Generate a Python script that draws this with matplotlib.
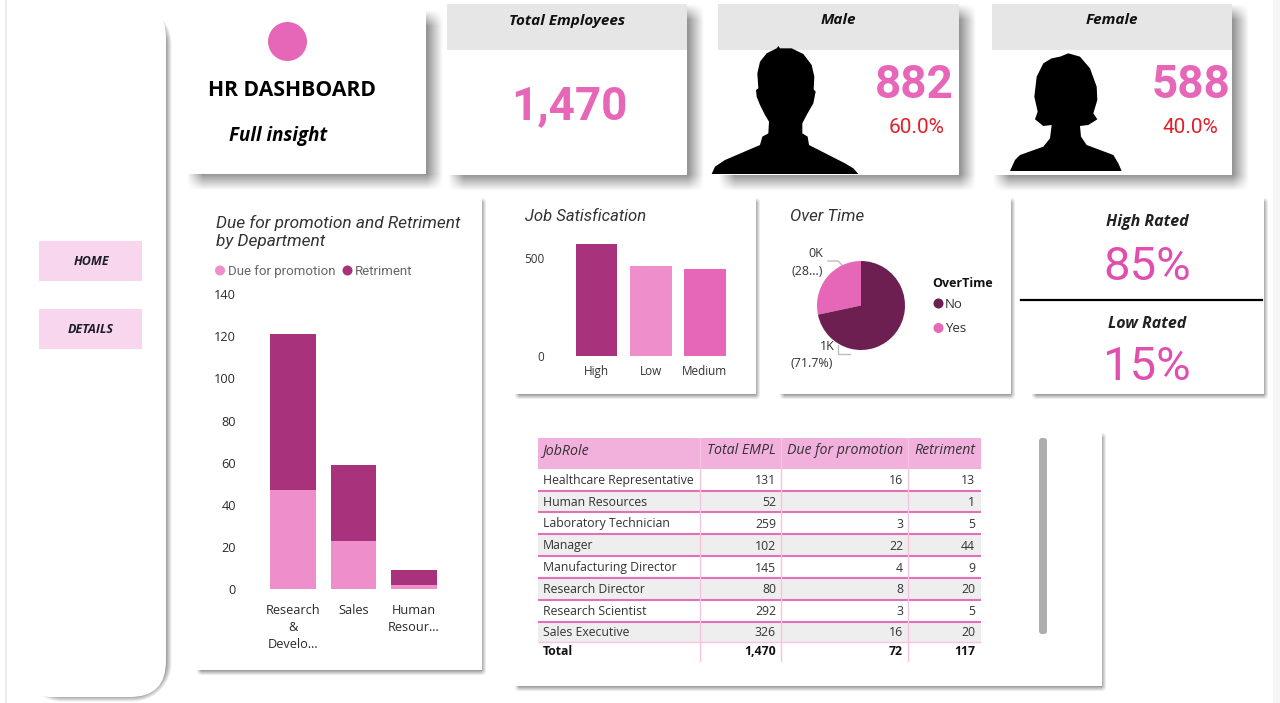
import matplotlib
matplotlib.use("Agg")
import matplotlib.pyplot as plt
from matplotlib.patches import FancyBboxPatch, Rectangle, Circle, Polygon
import numpy as np

W, H = 1280, 703

departments = ["Research\n&\nDevelo...", "Sales", "Human\nResour..."]
due_promotion = [47, 23, 2]
retirement = [74, 36, 7]

satisfaction_labels = ["High", "Low", "Medium"]
satisfaction_values = [571, 459, 444]

overtime_labels = ["Yes", "No"]
overtime_values = [28.3, 71.7]

job_roles = ["Healthcare Representative", "Human Resources", "Laboratory Technician",
             "Manager", "Manufacturing Director", "Research Director",
             "Research Scientist", "Sales Executive"]
role_total = ["131", "52", "259", "102", "145", "80", "292", "326"]
role_promotion = ["16", "", "3", "22", "4", "8", "3", "16"]
role_retirement = ["13", "1", "5", "44", "9", "20", "5", "20"]
table_header = ["JobRole", "Total EMPL", "Due for promotion", "Retriment"]
table_total = ["Total", "1,470", "72", "117"]

PINK = "#E667B8"
LIGHT = "#EE8FCB"
DARK = "#A8327B"
PLUM = "#6E1F52"
SANS = "Open Sans"
DIN = "Roboto"

plt.rcParams["font.family"] = [SANS, "DejaVu Sans"]

fig = plt.figure(figsize=(W / 100, H / 100), dpi=100, facecolor="white")
bg = fig.add_axes([0, 0, 1, 1], zorder=0)
bg.set_xlim(0, W)
bg.set_ylim(H, 0)
bg.axis("off")


def px_axes(x0, y0, x1, y1):
    ax = fig.add_axes([x0 / W, 1 - y1 / H, (x1 - x0) / W, (y1 - y0) / H], zorder=2)
    ax.patch.set_alpha(0)
    for s in ax.spines.values():
        s.set_visible(False)
    return ax


def txt(x, y, s, size, color="#111111", ha="center", weight="normal", style="normal", family=SANS):
    return bg.text(x, y + 1.5, s, fontsize=size, color=color, ha=ha, va="center",
                   fontweight=weight, fontstyle=style, family=family, zorder=6)


# soft shadows, accumulated into one grey layer
shadow = np.zeros((H, W))
grid_x = np.arange(W) + 0.5
grid_y = np.arange(H) + 0.5


def ramp(v, a, b, blur):
    return np.clip((v - a + blur) / (2 * blur), 0, 1) * np.clip((b - v + blur) / (2 * blur), 0, 1)


def card(x0, y0, x1, y1, dx=2, dy=3, blur=2.5, strength=0.38):
    global shadow
    layer = np.outer(ramp(grid_y, y0 + dy, y1 + dy, blur), ramp(grid_x, x0 + dx, x1 + dx, blur))
    shadow = np.maximum(shadow, layer * strength)
    bg.add_patch(Rectangle((x0, y0), x1 - x0, y1 - y0, fc="white", ec="none", zorder=2))


def rounded_shadow(x0, y0, x1, y1, r, blur, strength):
    global shadow
    xx, yy = np.meshgrid(grid_x, grid_y)
    qx = np.abs(xx - (x0 + x1) / 2) - ((x1 - x0) / 2 - r)
    qy = np.abs(yy - (y0 + y1) / 2) - ((y1 - y0) / 2 - r)
    dist = np.hypot(np.maximum(qx, 0), np.maximum(qy, 0)) + np.minimum(np.maximum(qx, qy), 0) - r
    shadow = np.maximum(shadow, np.clip((blur - dist) / (2 * blur), 0, 1) * strength)


# page edge
bg.add_patch(Rectangle((5, 0), 2, H, fc="#EDEDED", ec="none", zorder=0))
bg.add_patch(Rectangle((1273, 0), 7, H, fc="#F6F6F6", ec="none", zorder=0))

# sidebar
rounded_shadow(26, 8, 169, 699, 36, 3, 0.4)
bg.add_patch(FancyBboxPatch((16, 2), 150, 695, boxstyle="round,pad=0,rounding_size=36",
                            fc="white", ec="none", zorder=2))
for y0, label in [(241, "HOME"), (309, "DETAILS")]:
    bg.add_patch(Rectangle((39, y0), 103, 40, fc="#F8D7EE", ec="none", zorder=3))
    txt(91, y0 + 19, label, 9, weight="bold", style="italic", color="#1E1E2A")

# top cards
card(186, 10, 426, 174, dx=9, dy=8, blur=8, strength=0.42)
bg.add_patch(Circle((287.5, 41.5), 19.5, fc=PINK, ec="none", zorder=3))
txt(292, 89, "HR DASHBOARD", 15.2, color="black", weight="bold")
txt(278, 134, "Full insight", 13.5, color="black", weight="bold", style="italic")

for x0, x1, head in [(447, 687, "Total Employees"), (718, 959, "Male"), (992, 1232, "Female")]:
    card(x0, 4, x1, 175, dx=9, dy=8, blur=8, strength=0.42)
    bg.add_patch(Rectangle((x0, 4), x1 - x0, 45.5, fc="#E6E6E6", ec="none", zorder=3))
    txt((x0 + x1) / 2, 19, head, 11, color="#111111", weight="bold", style="italic")

txt(569, 105, "1,470", 33, color=PINK, weight="bold", family=DIN)
txt(914, 83, "882", 33, color=PINK, weight="bold", family=DIN)
txt(917, 126, "60.0%", 15, color="#E0202A", family=DIN)
txt(1191, 83, "588", 33, color=PINK, weight="bold", family=DIN)
txt(1190, 126, "40.0%", 15, color="#E0202A", family=DIN)

# silhouettes, outline (3x crop coordinates)
male_trace = [(20, 402), (30, 380), (60, 360), (165, 315), (172, 290), (190, 280), (192, 245),
              (180, 225), (165, 195), (155, 170), (153, 150), (160, 145), (157, 100), (165, 65),
              (185, 40), (215, 25), (220, 18), (225, 25), (260, 25), (295, 42), (320, 75),
              (328, 110), (326, 148), (332, 155), (325, 190), (305, 225), (292, 250), (292, 280),
              (308, 290), (312, 315), (420, 370), (445, 385), (460, 402)]
female_trace = [(30, 393), (45, 360), (60, 345), (130, 320), (150, 295), (155, 255), (130, 258),
                (105, 238), (113, 215), (103, 170), (110, 110), (130, 70), (155, 55), (180, 50),
                (205, 40), (240, 50), (270, 85), (290, 140), (292, 180), (280, 220), (292, 238),
                (265, 255), (240, 258), (243, 290), (260, 315), (340, 345), (355, 370), (365, 393)]
bg.add_patch(Polygon([(705 + a / 3, 40 + b / 3) for a, b in male_trace], closed=True,
                     fc="black", ec="none", zorder=4))
bg.add_patch(Polygon([(1000 + a / 3, 40 + b / 3) for a, b in female_trace], closed=True,
                     fc="black", ec="none", zorder=4))

# middle cards
card(197, 197, 482, 670)
card(515, 197, 756, 394)
card(780, 197, 1011, 394)
card(1032, 197, 1264, 394)
card(515, 432, 1102, 686)

# stacked bars
txt(216, 221, "Due for promotion and Retriment", 12.4, color="#333333", ha="left", style="italic", family=DIN)
txt(216, 240, "by Department", 12.4, color="#333333", ha="left", style="italic", family=DIN)
bg.add_patch(Circle((220, 270.5), 5, fc=LIGHT, ec="none", zorder=4))
txt(228, 270, "Due for promotion", 9.5, color="#666666", ha="left", family=DIN)
bg.add_patch(Circle((347.5, 270.5), 5, fc=DARK, ec="none", zorder=4))
txt(355, 270, "Retriment", 9.5, color="#666666", ha="left", family=DIN)

ax = px_axes(263, 294, 444, 589.3)
xs = range(len(departments))
ax.bar(xs, due_promotion, width=0.76, color=LIGHT)
ax.bar(xs, retirement, width=0.76, bottom=due_promotion, color=DARK)
ax.set_xlim(-0.5, 2.5)
ax.set_ylim(0, 140)
ax.set_yticks(range(0, 141, 20))
ax.set_xticks(list(xs), departments, linespacing=1.4)
ax.tick_params(length=0, labelsize=9.2, labelcolor="#2B2B2B")
ax.tick_params(axis="y", pad=19.5)
ax.tick_params(axis="x", pad=10.5)

# job satisfaction
txt(525, 215, "Job Satisfication", 12, color="#333333", ha="left", style="italic", family=DIN)
ax = px_axes(569.4, 238.4, 732, 356)
ax.bar(range(3), satisfaction_values, width=0.77, color=[DARK, LIGHT, PINK])
ax.set_xlim(-0.5, 2.5)
ax.set_ylim(0, 600)
ax.set_yticks([0, 500])
ax.set_xticks(range(3), satisfaction_labels)
ax.tick_params(length=0, labelsize=8.5, labelcolor="#333333")
ax.tick_params(axis="y", pad=18)
ax.tick_params(axis="x", pad=6.5)

# overtime pie
txt(790, 215, "Over Time", 12.2, color="#333333", ha="left", style="italic", family=DIN)
ax = px_axes(817, 261, 905, 350)
ax.pie(overtime_values, colors=[PINK, PLUM], startangle=90, counterclock=True, radius=1)
ax.set_xlim(-1, 1)
ax.set_ylim(-1, 1)
ax.set_aspect("auto")
txt(816, 252, "0K", 9, color="#333333")
txt(807, 270, "(28...)", 9, color="#333333")
txt(827, 345, "1K", 9, color="#333333")
txt(812, 362, "(71.7%)", 9, color="#333333")
bg.plot([828, 838, 842], [261, 261, 265], color="#BDBDBD", lw=1, zorder=4)
bg.plot([838, 838, 850], [345, 354, 354], color="#BDBDBD", lw=1, zorder=4)
txt(963, 282, "OverTime", 9, color="#111111", weight="bold")
bg.add_patch(Circle((938.5, 303.5), 5, fc=PLUM, ec="none", zorder=4))
txt(945, 302.5, "No", 9.5, color="#333333", ha="left")
bg.add_patch(Circle((938.5, 328), 5, fc=PINK, ec="none", zorder=4))
txt(945, 327, "Yes", 9.5, color="#333333", ha="left")

# rating kpis
txt(1147, 221, "High Rated", 11.5, weight="bold", style="italic", color="#222222")
txt(1147, 265, "85%", 34, color="#E14FAE", family=DIN)
bg.plot([1021, 1262], [300, 300], color="black", lw=1.6, zorder=4)
txt(1147, 323, "Low Rated", 11.5, weight="bold", style="italic", color="#222222")
txt(1147, 365, "15%", 34, color="#E14FAE", family=DIN)

# table
col_lines = [700, 780.5, 908]
col_right = [776, 903, 975]
row_edges = [469, 490.5, 512, 534, 556, 578, 599.5, 621.5, 641.5]
bg.add_patch(Rectangle((538, 438), 443, 31, fc="#F2B1DC", ec="none", zorder=3))
txt(542, 449, table_header[0], 10.2, color="#333333", ha="left", style="italic")
txt(col_right[0], 449, table_header[1], 10.2, color="#333333", ha="right", style="italic")
txt(col_right[1], 449, table_header[2], 10.2, color="#333333", ha="right", style="italic")
txt(col_right[2], 449, table_header[3], 10.2, color="#333333", ha="right", style="italic")

for i, role in enumerate(job_roles):
    y0, y1 = row_edges[i], row_edges[i + 1]
    if i % 2 == 1:
        bg.add_patch(Rectangle((538, y0), 443, y1 - y0, fc="#EEEEEE", ec="none", zorder=3))
    yc = (y0 + y1) / 2 - 0.5
    txt(543, yc, role, 8.8, color="#333333", ha="left")
    txt(col_right[0], yc, role_total[i], 8.8, color="#333333", ha="right")
    txt(col_right[1], yc, role_promotion[i], 8.8, color="#333333", ha="right")
    txt(col_right[2], yc, role_retirement[i], 8.8, color="#333333", ha="right")
    line_c = "#F7C3E3" if i == len(job_roles) - 1 else "#E36FB8"
    bg.plot([538, 981], [y1, y1], color=line_c, lw=1.5 if i < len(job_roles) - 1 else 1, zorder=4,
            solid_capstyle="butt")
for x in col_lines:
    bg.plot([x, x], [438, 661], color="#F7C3E3", lw=1, zorder=4)

txt(543, 650, table_total[0], 8.8, color="#111111", ha="left", weight="bold")
txt(col_right[0], 650, table_total[1], 8.8, color="#111111", ha="right", weight="bold")
txt(col_right[1], 650, table_total[2], 8.8, color="#111111", ha="right", weight="bold")
txt(col_right[2], 650, table_total[3], 8.8, color="#111111", ha="right", weight="bold")

bg.add_patch(FancyBboxPatch((1039, 438), 8, 196, boxstyle="round,pad=0,rounding_size=3",
                            fc="#ADADAD", ec="none", zorder=4))

rgba = np.zeros((H, W, 4))
rgba[..., 3] = shadow
bg.imshow(rgba, extent=(0, W, H, 0), zorder=1, aspect="auto", interpolation="nearest")
bg.set_xlim(0, W)
bg.set_ylim(H, 0)

fig.savefig("out.png", dpi=100)
